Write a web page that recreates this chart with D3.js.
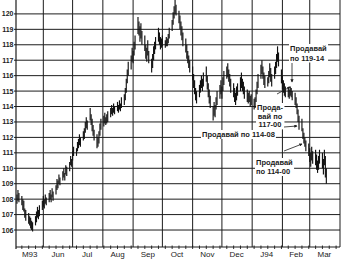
<!DOCTYPE html>
<html><head><meta charset="utf-8">
<script src="https://cdn.jsdelivr.net/npm/d3@7"></script>
<style>body{margin:0;background:#fff}svg{display:block}</style>
</head><body>
<svg id="c" width="342" height="259"></svg>
<script>
// first trading day of the series; bars fall on consecutive business days
const startDate = "1993-05-05";
const highs = [
 108.3,108.6,108.4,
 108.2,108.0,107.9,107.4,107.3,
 107.1,106.9,106.8,106.6,106.5,
 106.9,107.2,107.5,107.3,107.6,
 107.9,108.2,108.0,108.3,108.1,
 108.4,108.6,108.3,108.7,108.5,
 108.9,109.3,109.2,109.6,109.4,
 109.8,110.0,109.7,110.2,110.1,
 110.4,110.8,110.6,111.1,111.4,
 111.3,111.7,111.9,112.2,112.0,
 112.4,112.6,113.0,113.3,113.1,
 113.9,113.5,113.2,112.8,112.5,
 112.2,112.0,112.4,112.9,113.2,
 113.4,113.6,113.3,113.5,113.7,
 113.9,114.1,113.9,114.2,114.0,
 114.3,114.1,114.4,114.2,114.6,
 114.8,115.2,115.8,116.4,116.9,
 117.3,117.8,117.6,118.2,118.6,
 119.8,119.5,119.2,119.4,118.9,
 118.6,118.0,117.8,118.3,117.6,
 117.1,117.4,117.9,118.2,118.5,
 119.1,118.8,118.5,118.4,118.6,
 118.3,118.5,118.4,118.7,119.1,
 119.6,120.1,120.5,120.9,120.6,
 120.2,119.9,119.5,119.2,118.8,
 118.4,118.0,117.6,117.3,117.0,
 116.6,116.1,115.7,115.2,115.0,
 115.4,115.7,116.0,115.8,116.2,
 116.6,116.0,115.5,115.1,114.7,
 114.0,114.3,114.1,114.6,115.0,
 115.4,115.7,115.3,115.9,116.3,
 116.6,116.8,116.4,116.1,115.8,
 115.5,115.2,114.9,115.3,115.5,
 115.9,116.2,115.8,115.6,115.3,
 115.1,114.9,115.0,114.7,114.8,
 114.5,114.6,115.1,115.6,116.1,
 116.7,117.0,116.6,116.2,116.0,
 115.9,116.3,116.8,116.5,116.1,
 116.6,116.9,117.4,117.9,117.5,
 116.4,116.0,115.7,115.5,115.3,
 115.2,115.1,115.3,115.2,115.0,
 114.9,114.6,114.2,113.8,113.4,
 113.2,112.6,112.3,112.0,111.8,
 111.6,111.3,111.0,111.4,111.1,
 111.2,110.9,110.5,110.8,111.2,
 111.0,110.6,111.2,110.8,110.0
];
const lows = [
 107.7,107.9,107.8,
 107.6,107.3,107.2,106.8,106.6,
 106.4,106.3,106.1,106.0,105.9,
 106.3,106.5,106.8,106.7,106.9,
 107.3,107.5,107.4,107.7,107.6,
 107.8,108.0,107.8,108.1,107.9,
 108.3,108.6,108.7,109.0,108.9,
 109.2,109.4,109.2,109.6,109.5,
 109.8,110.2,110.1,110.5,110.8,
 110.8,111.1,111.3,111.5,111.4,
 111.8,111.9,112.3,112.6,112.5,
 113.1,112.8,112.4,112.1,111.8,
 111.3,111.4,111.6,112.1,112.5,
 112.7,112.9,112.8,112.9,113.0,
 113.3,113.5,113.4,113.6,113.5,
 113.7,113.6,113.8,113.7,113.9,
 114.1,114.4,114.9,115.5,116.0,
 116.4,116.9,116.8,117.3,117.7,
 118.7,118.6,118.2,118.4,118.0,
 117.6,117.1,116.9,117.3,116.8,
 116.2,116.5,117.0,117.4,117.7,
 118.2,118.0,117.7,117.8,117.9,
 117.8,117.9,117.9,118.1,118.4,
 118.9,119.3,119.7,120.0,119.9,
 119.4,119.0,118.6,118.3,117.9,
 117.5,117.1,116.8,116.5,116.2,
 115.7,115.2,114.8,114.4,114.2,
 114.6,114.9,115.2,115.0,115.3,
 115.6,115.1,114.6,114.2,113.9,
 113.1,113.4,113.3,113.8,114.1,
 114.5,114.8,114.5,115.0,115.4,
 115.8,115.9,115.6,115.3,114.9,
 114.6,114.3,114.1,114.4,114.7,
 115.0,115.2,115.0,114.8,114.5,
 114.3,114.2,114.3,114.0,114.1,
 113.8,113.9,114.3,114.8,115.2,
 115.8,116.1,115.8,115.4,115.2,
 115.3,115.5,115.9,115.6,115.3,
 115.8,116.1,116.5,116.9,116.6,
 115.5,115.1,114.9,114.7,114.6,
 114.6,114.5,114.7,114.6,114.4,
 114.1,113.9,113.5,113.0,112.5,
 112.4,111.9,111.6,111.4,111.1,
 110.8,110.4,110.1,110.5,110.3,
 110.2,109.9,109.7,109.9,110.3,
 110.0,109.6,110.2,109.4,109.0
];
const priceTicks = [106,107,108,109,110,111,112,113,114,115,116,117,118,119,120];
const monthLabels = ["M93","Jun","Jul","Aug","Sep","Oct","Nov","Dec","J94","Feb","Mar"];
const monthMids = ["1993-05-18","1993-06-16","1993-07-16","1993-08-16","1993-09-16","1993-10-16","1993-11-16","1993-12-16","1994-01-16","1994-02-15","1994-03-16"];
const monthStarts = ["1993-06-01","1993-07-01","1993-08-01","1993-09-01","1993-10-01","1993-11-01","1993-12-01","1994-01-01","1994-02-01","1994-03-01","1994-04-01"];
const noteTexts = [
  ["Продавай","по 119-14"],
  ["Прода-","вай по","117-00"],
  ["Продавай по 114-08"],
  ["Продавай","по 114-00"]
];

const parse = d3.timeParse("%Y-%m-%d");
const dates = [];
for (let d = parse(startDate); dates.length < highs.length; d = d3.timeDay.offset(d, 1)) {
  const w = d.getDay();
  if (w !== 0 && w !== 6) dates.push(d);
}

const svg = d3.select("#c");
const L = 16, R = 340, B = 247, T = 0;
const x = d3.scaleTime().domain([parse("1993-05-04"), parse("1994-04-01")]).range([L, R]);
const y = d3.scaleLinear().domain([104.9, 120.9]).range([B, T]);
const ink = "#1c1c1c";

// horizontal grid
svg.append("g").selectAll("line").data(priceTicks).join("line")
  .attr("x1", L - 2).attr("x2", R).attr("y1", d => y(d)).attr("y2", d => y(d))
  .attr("stroke", ink).attr("stroke-width", 1);
// vertical grid at month starts
svg.append("g").selectAll("line").data(monthStarts).join("line")
  .attr("x1", d => x(parse(d))).attr("x2", d => x(parse(d))).attr("y1", T).attr("y2", B)
  .attr("stroke", ink).attr("stroke-width", 1);
// left axis
svg.append("line").attr("x1", L).attr("x2", L).attr("y1", T).attr("y2", B + 2)
  .attr("stroke", ink).attr("stroke-width", 1.2);
// bottom axis
svg.append("line").attr("x1", L).attr("x2", R).attr("y1", B).attr("y2", B)
  .attr("stroke", ink).attr("stroke-width", 1.2);
// weekly ticks
svg.append("g").selectAll("line").data(d3.timeMonday.range(x.domain()[0], x.domain()[1])).join("line")
  .attr("x1", d => x(d)).attr("x2", d => x(d)).attr("y1", B - 1.5).attr("y2", B + 2)
  .attr("stroke", ink).attr("stroke-width", 0.9);

// y labels
svg.append("g").selectAll("text").data(priceTicks).join("text")
  .attr("x", 13.5).attr("y", d => y(d) + 2.5).attr("text-anchor", "end")
  .attr("font-family", "Liberation Sans, Arial, sans-serif").attr("font-weight", "bold")
  .attr("font-size", 7).attr("fill", ink).text(d => d);
// month labels
svg.append("g").selectAll("text").data(monthLabels).join("text")
  .attr("x", (d, i) => x(parse(monthMids[i]))).attr("y", 257).attr("text-anchor", "middle")
  .attr("font-family", "Liberation Sans, Arial, sans-serif")
  .attr("font-size", 8).attr("fill", ink).text(d => d);

// price bars
svg.append("g").selectAll("line").data(dates).join("line")
  .attr("x1", d => x(d)).attr("x2", d => x(d))
  .attr("y1", (d, i) => y(highs[i])).attr("y2", (d, i) => y(lows[i]))
  .attr("stroke", "#111").attr("stroke-width", 1.15);

// annotations
const defs = svg.append("defs");
defs.append("marker").attr("id", "ah").attr("viewBox", "0 0 6 6").attr("refX", 5).attr("refY", 3)
  .attr("markerWidth", 4).attr("markerHeight", 4).attr("orient", "auto")
  .append("path").attr("d", "M0,0L6,3L0,6Z").attr("fill", ink);

const notePos = [
  {x: 290, y: 51, anchor: "start", lh: 9.5},
  {x: 270, y: 110, anchor: "middle", lh: 8.7},
  {x: 202, y: 137, anchor: "start", lh: 9},
  {x: 256, y: 165, anchor: "start", lh: 9}
];
const ng = svg.append("g");
noteTexts.forEach((lines, k) => {
  const p = notePos[k];
  const g = ng.append("g");
  const t = g.append("text").attr("font-family", "Liberation Sans, Arial, sans-serif")
    .attr("font-weight", "bold").attr("font-size", 7.5).attr("fill", ink)
    .attr("text-anchor", p.anchor);
  lines.forEach((s, j) => t.append("tspan").attr("x", p.x).attr("y", p.y + j * p.lh).text(s));
  const bb = t.node().getBBox();
  g.insert("rect", "text").attr("x", bb.x - 1).attr("y", bb.y).attr("width", bb.width + 2)
    .attr("height", bb.height).attr("fill", "#fff");
});
const arrows = [
  [292, 63, 292, 82],
  [277, 94, 290, 87],
  [284, 127, 297, 126],
  [284, 151, 302, 144]
];
svg.append("g").selectAll("line").data(arrows).join("line")
  .attr("x1", d => d[0]).attr("y1", d => d[1]).attr("x2", d => d[2]).attr("y2", d => d[3])
  .attr("stroke", ink).attr("stroke-width", 0.8).attr("marker-end", "url(#ah)");
</script>
</body></html>
